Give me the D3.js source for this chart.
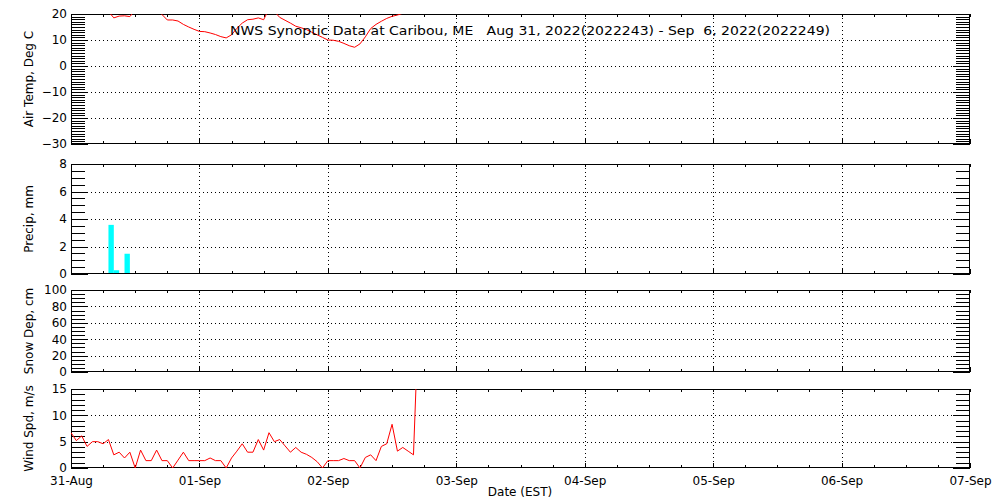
<!DOCTYPE html>
<html>
<head>
<meta charset="utf-8">
<script src="https://cdn.jsdelivr.net/npm/d3@7"></script>
<style>
  html, body { margin: 0; padding: 0; background: #fff; }
  svg { display: block; }
  text { font-family: "DejaVu Sans", sans-serif; fill: #000; }
</style>
</head>
<body>
<svg id="chart" width="1000" height="500"></svg>
<script>
// ---------------- DATA ----------------
const titleText = "NWS Synoptic Data at Caribou, ME   Aug 31, 2022(2022243) - Sep  6, 2022(2022249)";
const xAxisTitle = "Date (EST)";
const startTime = "2022-08-31T00:00:00Z";   // first hourly observation
const endTime = "2022-09-07T00:00:00Z";
const dayTickLabels = ["31-Aug", "01-Sep", "02-Sep", "03-Sep", "04-Sep", "05-Sep", "06-Sep", "07-Sep"];

// hourly air temperature, deg C (values above 20 are clipped off the panel)
const airTemp = [
  22.5, 22.8, 23.0, 22.6, 22.2, 21.8, 21.5, 21.0, 18.5, 19.2,
  19.3, 19.0, 21.5, 22.5, 23.5, 23.8, 22.0, 19.8, 17.7, 17.7,
  17.3, 16.0, 15.0, 14.1, 13.3, 13.2, 12.7, 12.1, 11.3, 10.8,
  12.0, 14.5, 16.5, 17.8, 18.0, 18.5, 17.8, 22.0, 21.0, 18.7,
  17.6, 16.5, 15.3, 14.7, 14.0, 13.0, 12.0, 11.0, 10.0, 9.9,
  9.5, 8.7, 7.8, 7.2, 8.5, 11.2, 14.4, 16.0, 17.2, 18.3,
  19.1, 19.6, 20.3, 21.0, 21.5, 22.0
];

// hourly precipitation, mm (hour offset from start, amount)
const precipHour = [7, 8, 10];
const precipMM = [3.5, 0.2, 1.4];

// snow depth, cm (no reports)
const snowDepth = [];

// hourly wind speed, m/s (last value runs off the panel)
const windSpeed = [
  6.7, 5.2, 6.1, 4.1, 5.0, 5.0, 4.6, 5.4, 2.5, 3.0,
  1.9, 3.0, 0.0, 3.4, 1.4, 1.4, 3.4, 1.4, 1.4, 0.0,
  1.5, 3.0, 1.4, 1.4, 1.4, 1.4, 1.9, 1.4, 1.4, 0.0,
  1.9, 3.2, 4.6, 3.0, 3.0, 5.4, 3.4, 6.7, 5.0, 5.4,
  4.2, 3.0, 3.9, 3.0, 2.6, 2.0, 1.2, 0.0, 1.4, 1.4,
  1.4, 1.8, 1.4, 1.4, 0.0, 2.0, 2.5, 1.4, 4.1, 4.6,
  8.3, 3.2, 3.9, 3.2, 2.5, 30.0
];

// panel definitions: [label, domain min, domain max, major step, minor step]
const panelLabels = ["Air Temp, Deg C", "Precip, mm", "Snow Dep, cm", "Wind Spd, m/s"];
const panelMin = [-30, 0, 0, 0];
const panelMax = [20, 8, 100, 15];
const panelMajor = [10, 2, 20, 5];
const panelMinor = [1, 0.5, 5, 1];

// ---------------- LAYOUT ----------------
const X0 = 71, X1 = 970;
const panelTop = [14, 164, 290, 389];
const panelBottom = [144, 274, 372, 468];

const svg = d3.select("#chart");
const t0 = new Date(startTime), t1 = new Date(endTime);
const x = d3.scaleUtc().domain([t0, t1]).range([X0, X1]);
const hourToDate = h => new Date(t0.getTime() + h * 3600e3);

const dayTicks = d3.utcDay.range(t0, d3.utcDay.offset(t1, 1));
const sixHourTicks = d3.utcHour.every(6).range(t0, d3.utcHour.offset(t1, 1));

function seq(a, b, s) {
  const n = Math.round((b - a) / s);
  return d3.range(n + 1).map(i => +(a + i * s).toFixed(4));
}

const ys = [];

panelLabels.forEach((lab, i) => {
  const top = panelTop[i], bot = panelBottom[i];
  const y = d3.scaleLinear().domain([panelMin[i], panelMax[i]]).range([bot, top]);
  ys.push(y);
  const g = svg.append("g");
  const majors = seq(panelMin[i], panelMax[i], panelMajor[i]);
  const minors = seq(panelMin[i], panelMax[i], panelMinor[i]);

  // clip path
  svg.append("clipPath").attr("id", "clip" + i)
    .append("rect").attr("x", X0).attr("y", top).attr("width", X1 - X0).attr("height", bot - top);

  // horizontal dotted grid
  g.append("g").selectAll("line")
    .data(majors.filter(v => v !== panelMin[i] && v !== panelMax[i]))
    .join("line")
    .attr("x1", X0).attr("x2", X1)
    .attr("y1", d => Math.round(y(d)) + 0.5).attr("y2", d => Math.round(y(d)) + 0.5)
    .attr("stroke", "#000").attr("stroke-dasharray", "1,3");

  // vertical dotted grid at days
  g.append("g").selectAll("line")
    .data(dayTicks.filter(d => d > t0 && d < t1))
    .join("line")
    .attr("x1", d => Math.round(x(d)) + 0.5).attr("x2", d => Math.round(x(d)) + 0.5)
    .attr("y1", top).attr("y2", bot)
    .attr("stroke", "#000").attr("stroke-dasharray", "1,3");

  // left minor ticks
  g.append("g").attr("transform", `translate(${X0},0)`)
    .call(d3.axisLeft(y).tickValues(minors).tickSize(-14).tickFormat(""));
  // left major ticks + labels
  const leftMajor = g.append("g").attr("transform", `translate(${X0},0)`)
    .call(d3.axisLeft(y).tickValues(majors).tickSize(-17).tickPadding(4));
  leftMajor.selectAll("text").style("font-size", "12px").style("font-family", "DejaVu Sans, sans-serif");
  // right minor / major ticks
  g.append("g").attr("transform", `translate(${X1},0)`)
    .call(d3.axisRight(y).tickValues(minors).tickSize(-14).tickFormat(""));
  g.append("g").attr("transform", `translate(${X1},0)`)
    .call(d3.axisRight(y).tickValues(majors).tickSize(-17).tickFormat(""));

  // top / bottom 6-hourly ticks
  g.append("g").attr("transform", `translate(0,${top})`)
    .call(d3.axisTop(x).tickValues(sixHourTicks).tickSize(-3).tickFormat(""));
  g.append("g").attr("transform", `translate(0,${bot})`)
    .call(d3.axisBottom(x).tickValues(sixHourTicks).tickSize(-3).tickFormat(""));
  const bottomDays = g.append("g").attr("transform", `translate(0,${bot})`)
    .call(d3.axisBottom(x).tickValues(dayTicks).tickSize(-5).tickPadding(i === 3 ? 8 : 0)
      .tickFormat((d, k) => i === 3 ? dayTickLabels[k] : ""));
  bottomDays.selectAll("text").style("font-size", "12px").style("font-family", "DejaVu Sans, sans-serif");

  g.selectAll(".domain").remove();
  g.selectAll(".tick line").attr("stroke", "#000").attr("shape-rendering", "crispEdges");

  // border
  g.append("rect").attr("x", X0 + 0.5).attr("y", top + 0.5)
    .attr("width", X1 - X0 - 1).attr("height", bot - top - 1)
    .attr("fill", "none").attr("stroke", "#000").attr("shape-rendering", "crispEdges");

  // y-axis title
  svg.append("text")
    .attr("transform", `translate(33,${(top + bot) / 2}) rotate(-90)`)
    .attr("text-anchor", "middle")
    .style("font-size", "12px")
    .text(lab);
});

// ---------------- DATA MARKS ----------------
// Air temperature
svg.append("path")
  .datum(airTemp)
  .attr("clip-path", "url(#clip0)")
  .attr("fill", "none").attr("stroke", "#ff0000").attr("stroke-width", 1)
  .attr("d", d3.line().x((d, k) => x(hourToDate(k))).y(d => ys[0](d)));

// Precipitation bars (hourly)
svg.append("g").attr("clip-path", "url(#clip1)")
  .selectAll("rect")
  .data(precipHour.map((h, k) => ({ h, v: precipMM[k] })))
  .join("rect")
  .attr("x", d => x(hourToDate(d.h)))
  .attr("width", d => x(hourToDate(d.h + 1)) - x(hourToDate(d.h)))
  .attr("y", d => ys[1](d.v) - 1)
  .attr("height", d => ys[1](0) - ys[1](d.v))
  .attr("fill", "#00ffff");

// Snow depth (none)
svg.append("path")
  .datum(snowDepth)
  .attr("clip-path", "url(#clip2)")
  .attr("fill", "none").attr("stroke", "#ff0000")
  .attr("d", d3.line().x((d, k) => x(hourToDate(k))).y(d => ys[2](d)));

// Wind speed
svg.append("path")
  .datum(windSpeed)
  .attr("clip-path", "url(#clip3)")
  .attr("fill", "none").attr("stroke", "#ff0000").attr("stroke-width", 1)
  .attr("d", d3.line().x((d, k) => x(hourToDate(k))).y(d => ys[3](d)));

// ---------------- TITLES ----------------
svg.append("text")
  .attr("x", 230).attr("y", 35)
  .attr("xml:space", "preserve")
  .style("white-space", "pre")
  .style("font-size", "13px")
  .attr("textLength", 600).attr("lengthAdjust", "spacingAndGlyphs")
  .text(titleText);

svg.append("text")
  .attr("x", 520).attr("y", 496)
  .attr("text-anchor", "middle")
  .style("font-size", "12px")
  .text(xAxisTitle);
</script>
</body>
</html>
